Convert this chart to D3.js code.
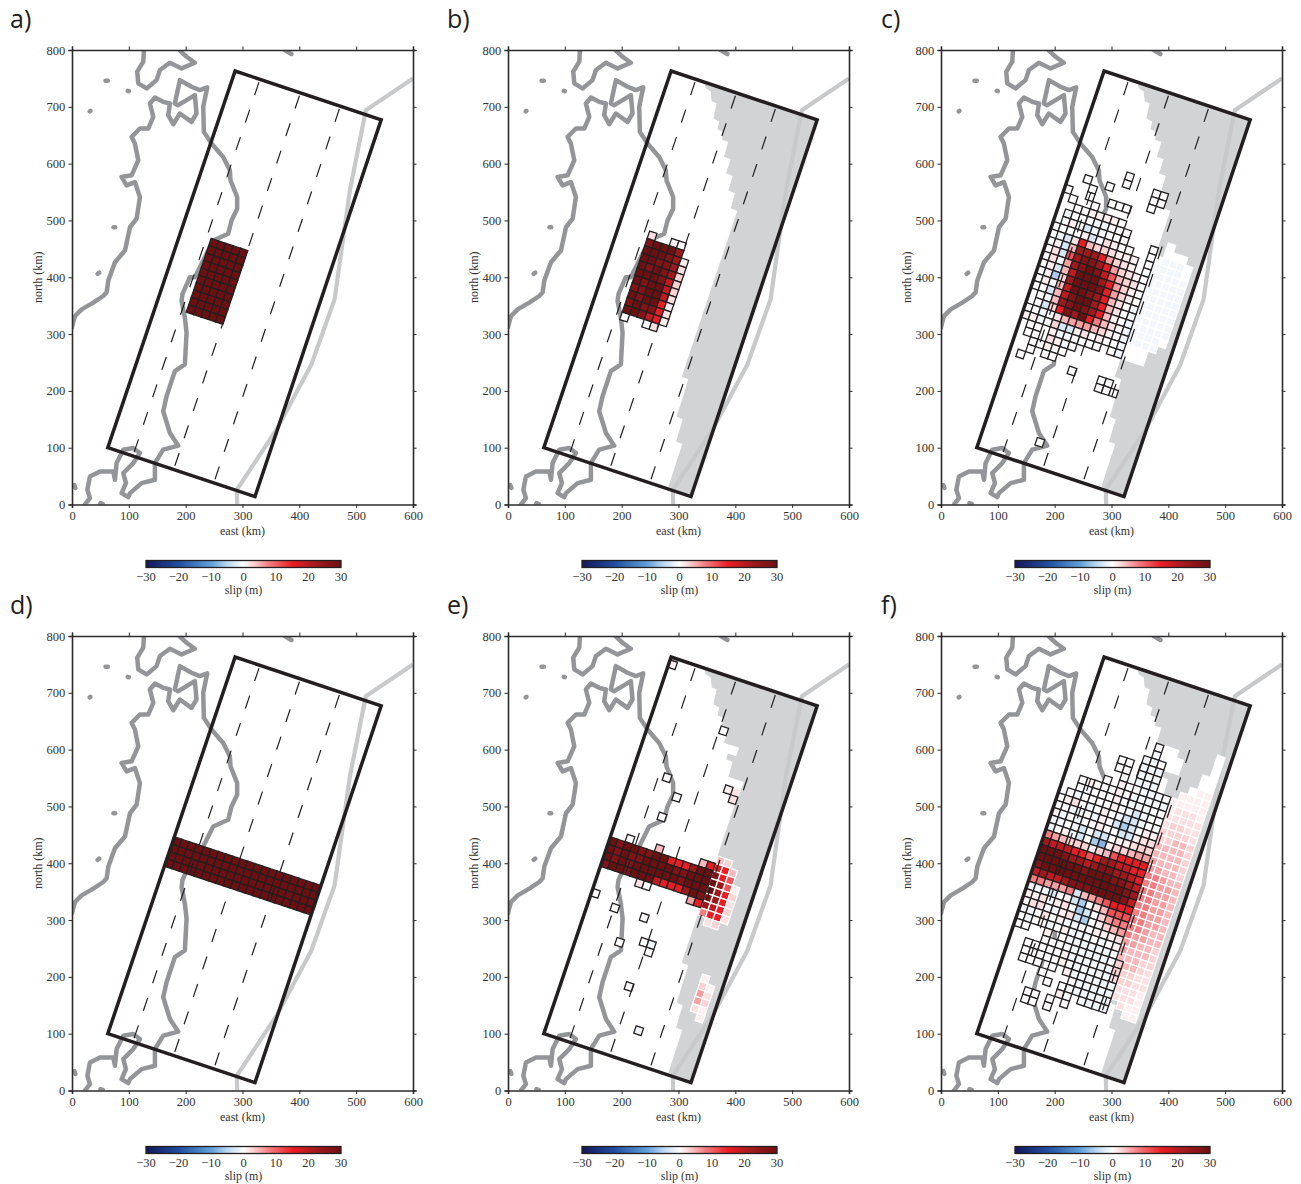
<!DOCTYPE html>
<html><head><meta charset="utf-8">
<script src="https://cdn.jsdelivr.net/npm/d3@7/dist/d3.min.js"></script>
<style>
html,body{margin:0;padding:0;background:#fff}
svg{display:block}
svg text{font-family:"Liberation Serif","Times New Roman",serif !important;fill:#333}
svg text.letter{font-family:"Open Sans",sans-serif !important;font-weight:400;font-size:25px;fill:#231f20}
</style></head><body>
<svg id="c" width="1301" height="1184"></svg>
<script>
// ---------- data (km) ----------
const eastTicks=[0,100,200,300,400,500,600];
const northTicks=[0,100,200,300,400,500,600,700,800];
const slipTicks=[-30,-20,-10,0,10,20,30];
const panelLetters=["a)","b)","c)","d)","e)","f)"];
const faultCorners=[[63,100],[322,14],[544,677],[287,763]];
const depthFractions=[0.17,0.447,0.72];
const trench=[[290.6,0],[290,26],[360,132],[421,246],[462,361],[489,553],[517,694],[600,750]];
const greyArea=[[345,743.6],[347.9,732.7],[356.7,726.8],[358.4,709.2],[367.2,706.3],[361.3,679.9],[371.9,673.9],[368.3,660.5],[378.9,656.3],[376.6,641.7],[387.7,638.7],[380,612.3],[391.9,607.7],[383.6,583.1],[395.4,578.4],[387.7,552.5],[399.4,547.9],[391.9,521.5],[403.5,516.7],[305.6,225],[317.3,220.4],[296.8,154.6],[307.4,150],[295.6,110.6],[306.7,106.5],[282.1,31.3],[322,14],[544,677]];
const coastHokkaido=[[126.6,800],[125.4,779.4],[114.8,761.8],[116.6,741.2],[131.2,732.4],[148.8,747],[154.7,764.7],[172.3,777.6],[192.8,767.6],[216.2,777.6],[201.6,788.2],[189.8,798.8]];
const coastOshima=[[374.4,800],[386,793]];
const coastHonshu=[[0,312],[1.2,317],[5.3,331.8],[17,343.5],[37.5,355.3],[55,367],[60.9,373.5],[63.9,394.1],[75.6,426.5],[93.2,447],[102,488],[113.7,503],[119.5,541],[110.7,567.6],[96,561.8],[87.3,576.5],[104.9,579.4],[116.6,605.9],[110.7,635.3],[104.9,647],[119.5,661.8],[134.2,661.8],[143,682.4],[137.1,705.9],[145.9,716.5],[160.5,708.8],[172.3,705.9],[169.3,685.3],[178.1,669.4],[189.8,688.2],[210.3,673.5],[219.1,688.2],[216.2,720.6],[186.9,702.9],[181,705.9],[189.8,747],[210.3,735.3],[225,729.4],[237.9,734.1],[230.9,700],[232,655.9],[245.5,635.3],[266,611.8],[277.7,588.2],[278.9,570.6],[290.6,541.2],[290.6,520.6],[280.7,500],[274.8,476.5],[248.4,464.7],[216.2,400],[207.4,400],[194.5,370.6],[192.8,358.2],[198.6,328.8],[201.6,302.4],[198.6,246.5],[181,234.7],[166.4,190.6],[160.5,164.1],[172.3,125.9],[186.9,103.5],[160.5,96.5],[145.9,72.9],[145.9,43.5],[122.5,37.6],[102,20],[99,12.9],[87.3,20],[94.9,37.6],[90.2,55.3],[107.8,72.9],[119.5,90.6],[107.8,99.4],[90.2,96.5],[78.5,72.9],[75.6,43.5],[72.7,58.2],[49.2,58.2],[31.6,49.4],[27,25.9],[31.6,11.2],[22.9,0]];
const islands=[[[59,745.9],[63,745.9]],[[98,728.2],[100,727.5]],[[31,692],[32.5,693]],[[73,488.2],[76,488.2]],[[45,406],[48,408]],[[4,34],[6,29]],[[50,2.4],[54,1]]];
const slipLevels={"0":0,"a":-1,"b":-3,"c":-6,"d":-8,"1":1,"2":2,"3":3,"4":4.5,"5":6,"6":8,"7":11,"8":15,"9":19,"A":23,"B":27,"C":30};

// rows of the slip model: [along-strike row, one character per along-dip column]
const slipA=[[29,"....CCCCC"],[28,"....CCCCC"],[27,"....CCCCC"],[26,"....CCCCC"],[25,"....CCCCC"],[24,"....CCCCC"],[23,"....CCCCC"],[22,"....CCCCC"],[21,"....CCCCC"],[20,"....CCCCC"]];
const slipB=[[30,"....2..10"],[29,"....BCCCA"],[28,"....CCCBA1"],[27,"....CCBBA2"],[26,"....CBCBA3"],[25,"....CCCB93"],[24,"....CBCC93"],[23,"....BBCC92"],[22,"....CBCC81"],[21,"....BCBB82"],[20,"....CCB981"],[19,"....0..02"]];
const slipC=[
[39,".......0"],[38,".......0...00"],[37,"..0..0.....00"],[36,"...0.......0"],[35,"0..0..000"],[34,".0..0"],
[33,"..0011110"],[32,".a000aa000.....0"],[31,".010baa000...0.000"],[30,"00001ba2100..00aaa0"],
[29,".ab284332111.0aaaa0"],[28,"01b4AAA85321.0aaaaa"],[27,".2b7ABBA853210aaaaa"],[26,"02a5ABCB974320aaaaa"],
[25,"01b49CCCA85310aaaaa"],[24,"01c3ACCCB85310aaaaa"],[23,"01a49CCBA8420aaaaaa"],[22,"00b49BCCA8420aaaaaa"],
[21,".0a4ABCBA8410aaaaaa"],[20,".0b38BAC86420aaaaa0"],[19,"00a0245554310aaaaa"],[18,"11a03bb120100a000"],
[17,".00.1aa0000.0a000"],[16,".00.21a0"],[15,"..00100"],[14,"..0.00"],[13,".0......0...00"],[12,"............000"],[3,".......0"]];
const slipD=[[26,"CCCCCCCCCCCCCCCCCCCC"],[25,"CCCCCCCCCCCCCCCCCCCC"],[24,"CCCCCCCCCCCCCCCCCCCC"],[23,"CCCCCCCCCCCCCCCCCCCC"]];
const slipE=[
[50,"1"],[44,".........0"],[42,"...........0"],[38,".............0"],[37,"............12"],[36,"....0........2"],[34,"......0"],[31,".....0"],
[28,"..............43"],[27,"..0...4.....48884"],[26,"CBCCBBCC888ACCB87"],[25,"CBCBBCCCCBBCCCCA71"],[24,"CBCBCCCCCCBCCCCA83"],[23,"BCCBCCC9888ACBBA82"],
[22,".....20.....58A983"],[21,"..............6882"],[20,"...............23"],[19,"0"],[18,"...0...0"],[15,"........0a"],[14,".....0...0"],
[13,".................1"],[12,".................31"],[11,".................52"],[10,".................53"],[9,"........0........21"],[8,"..................1"],[4,"...........a"]];
const slipF=[
[43,"..................0"],[42,"..........000.....0"],[41,"..........a000....0"],[40,".........aa000...00"],[39,"......00.aaa.....00"],[38,"......00.aaa....011"],[37,".......0.aaa...1111"],
[36,".....0.10.aaa011111"],[35,"..0100010aaaaa12221"],[34,"..0a00010aaa0022222"],[33,".0a000010aba0023322"],[32,"0120a010abba0033332"],[31,"00aa0a10bcb01133443"],[30,"1a0a00100bb12244443"],
[29,"aa0ab0bb01123344443"],[28,"a01ab0cd13345554443"],[27,"6543331347888855443"],[26,"A9998878AA998866544"],[25,"CCCBAA9ABBAA9866554"],[24,"CCCCCCBCCCBBA966554"],[23,"BCCCCCCCCCCCBA66554"],[22,"9A99ABBBCCCCB966554"],
[21,"665556b456788866554"],[20,"aaab01bc02477766554"],[19,"112a120cb0356666544"],[18,"022aa12bc0134565544"],[17,"aa0201aaa0111255443"],[16,"0a00a01aaa0a0154443"],[15,"00..1.0aaaaaa044433"],
[14,"....0000aaaaaa34432"],[13,"..000001aaaaaa33322"],[12,"..0000010aaaaa23322"],[11,"..000.0.1aaaaaa2221"],[10,".....0...0aaaaa2221"],[9,"......0.00aaaaa.211"],[8,"........10.aaaa..11"],[7,"....00.0.0"],[6,"....00.0"]];

const panels=[
 {x:72,y:50,rows:slipA,grey:false},{x:508,y:50,rows:slipB,grey:true},{x:941,y:50,rows:slipC,grey:true},
 {x:72,y:636,rows:slipD,grey:false},{x:508,y:636,rows:slipE,grey:true},{x:941,y:636,rows:slipF,grey:true}];
const letterPos=[[10,28],[447,28],[881,28],[10,614],[447,614],[881,614]];

// ---------- helpers ----------
const W=341,H=454.5,INK="#231f20";
const xS=d3.scaleLinear().domain([0,600]).range([0,W]);
const yS=d3.scaleLinear().domain([0,800]).range([H,0]);
const line=d3.line().x(d=>xS(d[0])).y(d=>yS(d[1]));
const slipColor=d3.scaleLinear()
 .domain([-30,-20,-10,-5,0,3,8,15,22,30])
 .range(["#14165a","#1f4da0","#5f9fd8","#b9d7f1","#ffffff","#fcd2d3","#f47b7f","#ec1c24","#a5191e","#6e0f11"]);
const cw=13.6,ch=13.7,rowShift=-0.3;
const [O,B,,T]=faultCorners;
const len=(a,b)=>Math.hypot(b[0]-a[0],b[1]-a[1]);
const uDir=[(B[0]-O[0])/len(O,B),(B[1]-O[1])/len(O,B)];
const vDir=[(T[0]-O[0])/len(O,T),(T[1]-O[1])/len(O,T)];
const km=(i,j)=>[O[0]+uDir[0]*cw*i+vDir[0]*ch*(j+rowShift),O[1]+uDir[1]*cw*i+vDir[1]*ch*(j+rowShift)];

const svg=d3.select("#c");
const defs=svg.append("defs");
const grad=defs.append("linearGradient").attr("id","slipGrad");
d3.range(0,61).forEach(k=>{const v=-30+k;grad.append("stop").attr("offset",(k/60*100)+"%").attr("stop-color",slipColor(v));});
defs.append("clipPath").attr("id","plotClip").append("rect").attr("width",W).attr("height",H);

panels.forEach((p,n)=>{
 const g=svg.append("g").attr("transform",`translate(${p.x},${p.y})`);
 const plot=g.append("g").attr("clip-path","url(#plotClip)");
 if(p.grey) plot.append("path").attr("d",line(greyArea)+"Z").attr("fill","#d1d3d4");
 plot.append("path").attr("d",line(trench)).attr("fill","none").attr("stroke","#c8c9cb").attr("stroke-width",4.2).attr("stroke-linejoin","round");
 [coastHokkaido,coastOshima,coastHonshu,...islands].forEach(c=>{
  plot.append("path").attr("d",line(c)).attr("fill","none").attr("stroke","#939598").attr("stroke-width",4.5).attr("stroke-linejoin","round").attr("stroke-linecap","round");
 });
 // cells
 const cells=[];
 p.rows.forEach(([j,s])=>{[...s].forEach((ch0,i)=>{ if(ch0!=="."){
   const centre=km(i+.5,j+.5);
   cells.push({i,j,v:slipLevels[ch0],onGrey:p.grey&&d3.polygonContains(greyArea,centre)});
 }});});
 cells.sort((a,b)=>(b.onGrey?1:0)-(a.onGrey?1:0));
 plot.selectAll("path.cell").data(cells).join("path").attr("class","cell")
  .attr("d",d=>line([km(d.i,d.j),km(d.i+1,d.j),km(d.i+1,d.j+1),km(d.i,d.j+1)])+"Z")
  .attr("fill",d=>slipColor(d.v))
  .attr("stroke",d=>d.onGrey?"#ffffff":INK).attr("stroke-width",1.3);
 // depth contours
 depthFractions.forEach(f=>{
  const a=[O[0]+(B[0]-O[0])*f,O[1]+(B[1]-O[1])*f];
  const t0=faultCorners[3],t1=faultCorners[2];
  const b=[t0[0]+(t1[0]-t0[0])*f,t0[1]+(t1[1]-t0[1])*f];
  plot.append("path").attr("d",line([b,a])).attr("fill","none").attr("stroke",INK).attr("stroke-width",1.2).attr("stroke-dasharray","13.5 15.5").attr("stroke-dashoffset",-3);
 });
 plot.append("path").attr("d",line(faultCorners)+"Z").attr("fill","none").attr("stroke",INK).attr("stroke-width",3.5).attr("stroke-linejoin","miter");
 // frame + axes
 const axes=[
  [d3.axisBottom(xS).tickValues(eastTicks),`translate(0,${H})`,true],
  [d3.axisTop(xS).tickValues(eastTicks),"",false],
  [d3.axisLeft(yS).tickValues(northTicks),"",true],
  [d3.axisRight(yS).tickValues(northTicks),`translate(${W},0)`,false]];
 axes.forEach(([ax,t,lab])=>{
  const a=g.append("g").attr("transform",t).call(ax.tickSizeOuter(0).tickSize(3.5).tickPadding(3.2));
  a.select(".domain").attr("stroke","#2b2b2b").attr("stroke-width",1.6);
  a.selectAll(".tick line").attr("stroke","#2b2b2b").attr("stroke-width",1);
  a.selectAll("text").attr("font-size",12.5).style("display",lab?null:"none");
 });
 g.append("text").attr("x",W/2).attr("y",H+30).attr("text-anchor","middle").attr("font-size",12).text("east (km)");
 g.append("text").attr("transform",`translate(-30,${H/2}) rotate(-90)`).attr("text-anchor","middle").attr("font-size",12).text("north (km)");
 // colour bar
 const cb=d3.scaleLinear().domain([-30,30]).range([74,269]);
 g.append("rect").attr("x",cb(-30)).attr("y",H+56).attr("width",cb(30)-cb(-30)).attr("height",7).attr("fill","url(#slipGrad)").attr("stroke",INK).attr("stroke-width",1.3);
 slipTicks.forEach(v=>{
  g.append("text").attr("x",cb(v)).attr("y",H+76.5).attr("text-anchor","middle").attr("font-size",12.5).text(v<0?"\u2212"+(-v):v);
 });
 g.append("text").attr("x",cb(0)).attr("y",H+89.5).attr("text-anchor","middle").attr("font-size",12).text("slip (m)");
 svg.append("text").attr("class","letter").attr("x",letterPos[n][0]).attr("y",letterPos[n][1]).text(panelLetters[n]);
});
</script>
</body></html>
